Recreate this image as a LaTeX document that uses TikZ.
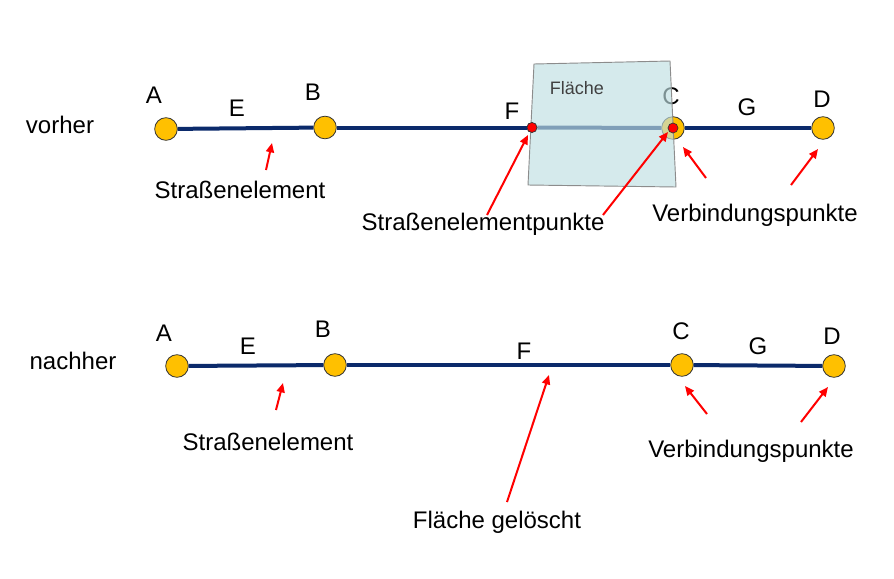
\documentclass[tikz,border=0pt]{standalone}
\usepackage{fontspec}
\setmainfont{Liberation Sans}
\usepackage{xcolor}
\usetikzlibrary{arrows.meta}

\definecolor{strasse}{HTML}{0B2A6B}
\definecolor{punktgelb}{HTML}{FFC000}
\definecolor{flaeche}{HTML}{BFDFE2}

\begin{document}
\begin{tikzpicture}[
    x=0.75pt, y=-0.75pt,
    vpunkt/.style={circle, draw=black!80, fill=punktgelb, line width=0.6pt,
                   minimum size=17pt, inner sep=0pt},
    spunkt/.style={circle, draw=black!80, fill=red, line width=0.5pt,
                   minimum size=7.5pt, inner sep=0pt},
    element/.style={draw=strasse, line width=3pt},
    label/.style={font=\fontsize{18}{20}\selectfont, inner sep=0pt},
    hinweis/.style={-{Triangle[length=7pt,width=6pt]}, draw=red, line width=1.5pt}
]
\useasboundingbox (0,0) rectangle (894,579);

% vorher
\node[label] (vorher) at (60,125) {vorher};
\node[vpunkt] (a1) at (166,129) {};
\node[vpunkt] (b1) at (325,127.5) {};
\node[spunkt] (f1) at (532,127.5) {};
\node[vpunkt] (c1) at (673,128) {};
\node[vpunkt] (d1) at (823,128) {};
\draw[element] (a1) -- (b1);
\draw[element] (b1) -- (f1);
\draw[element] (f1) -- (c1);
\draw[element] (c1) -- (d1);

\node[label] (la1) at (154,95) {A};
\node[label] (le1) at (237,108) {E};
\node[label] (lb1) at (313,92) {B};
\node[label] (lf1) at (512,111) {F};
\node[label] (lc1) at (671,96) {C};
\node[label] (lg1) at (747,107) {G};
\node[label] (ld1) at (822,99) {D};

\filldraw[fill=flaeche, fill opacity=0.65, draw=black!45, line width=0.7pt]
    (534,64) -- (670,61) -- (676,187) -- (528,185) -- cycle;
\node[font=\fontsize{13.5}{15}\selectfont, text=black!75] (fl) at (577,88) {Fläche};
\node[spunkt] (f1dot) at (f1) {};
\node[spunkt] (c1dot) at (c1) {};

\node[label] (se1) at (240,190) {Straßenelement};
\node[label] (sp1) at (483,224) {Straßenelementpunkte};
\node[label] (vp1) at (755,215) {Verbindungspunkte};

\coordinate (p1) at (266,170); \coordinate (q1) at (272,143);
\coordinate (p2) at (487,215); \coordinate (q2) at (528,135);
\coordinate (p3) at (603,215); \coordinate (q3) at (668,132);
\coordinate (p4) at (706,178); \coordinate (q4) at (683,147);
\coordinate (p5) at (791,185); \coordinate (q5) at (818,149);
\draw[hinweis] (p1) -- (q1);
\draw[hinweis] (p2) -- (q2);
\draw[hinweis] (p3) -- (q3);
\draw[hinweis] (p4) -- (q4);
\draw[hinweis] (p5) -- (q5);

% nachher
\node[label] (nachher) at (73,361) {nachher};
\node[vpunkt] (a2) at (177,366) {};
\node[vpunkt] (b2) at (335,365) {};
\node[vpunkt] (c2) at (682,365) {};
\node[vpunkt] (d2) at (834,366) {};
\draw[element] (a2) -- (b2);
\draw[element] (b2) -- (c2);
\draw[element] (c2) -- (d2);

\node[label] (la2) at (164,333) {A};
\node[label] (le2) at (248,346) {E};
\node[label] (lb2) at (323,329) {B};
\node[label] (lf2) at (524,351) {F};
\node[label] (lc2) at (681,331) {C};
\node[label] (lg2) at (758,346) {G};
\node[label] (ld2) at (832,336) {D};

\node[label] (se2) at (268,442) {Straßenelement};
\node[label] (fg) at (497,522) {Fläche gelöscht};
\node[label] (vp2) at (751,451) {Verbindungspunkte};

\coordinate (p6) at (276,410); \coordinate (q6) at (283,383);
\coordinate (p7) at (507,502); \coordinate (q7) at (549,375);
\coordinate (p8) at (707,414); \coordinate (q8) at (685,386);
\coordinate (p9) at (801,422); \coordinate (q9) at (828,387);
\draw[hinweis] (p6) -- (q6);
\draw[hinweis] (p7) -- (q7);
\draw[hinweis] (p8) -- (q8);
\draw[hinweis] (p9) -- (q9);
\end{tikzpicture}
\end{document}
